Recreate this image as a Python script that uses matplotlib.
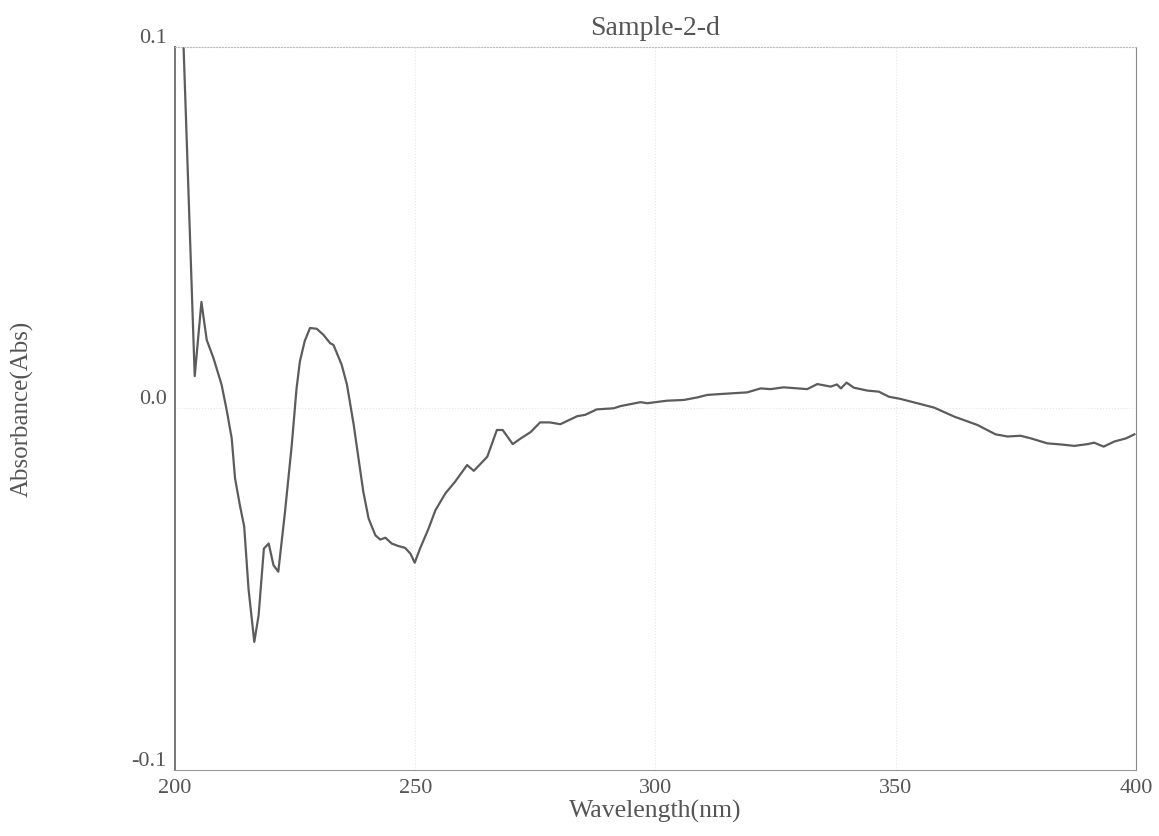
import matplotlib
matplotlib.use("Agg")
import matplotlib.pyplot as plt

# wavelength (nm) and absorbance
wavelength = [200.0, 204.1, 205.5, 206.6, 208.0, 209.7, 210.8, 211.8, 212.5,
              213.5, 214.4, 215.3, 216.5, 217.4, 218.5, 219.5, 220.5, 221.5,
              222.9, 224.3, 225.3, 226.0, 227.0, 228.1, 229.5, 230.9, 232.3,
              233.0, 234.7, 235.8, 237.2, 238.2, 239.2, 240.3, 241.7, 242.7,
              243.8, 245.1, 246.5, 247.9, 249.0, 249.9, 251.0, 252.8, 254.2,
              256.3, 258.3, 260.8, 262.2, 265.0, 267.0, 268.2, 270.3, 272.0,
              274.0, 276.0, 278.0, 280.2, 283.7, 285.4, 287.8, 291.3, 292.7,
              296.9, 298.3, 302.4, 305.9, 308.7, 310.8, 314.2, 319.1, 321.9,
              324.0, 326.7, 331.6, 333.7, 336.5, 337.8, 338.6, 339.8, 341.3,
              344.1, 346.5, 348.6, 351.0, 354.5, 358.0, 362.2, 367.0, 370.8,
              373.3, 376.0, 378.1, 381.6, 384.4, 387.2, 390.0, 391.3, 393.3,
              395.5, 398.0, 399.7]
absorbance = [0.170, 0.0089, 0.0294, 0.0189, 0.0139, 0.0065, -0.0008, -0.0083, -0.0194,
              -0.0268, -0.0327, -0.0499, -0.0646, -0.0573, -0.0388, -0.0374, -0.0434, -0.0452,
              -0.0286, -0.0102, 0.0055, 0.0130, 0.0186, 0.0222, 0.0220, 0.0203, 0.0180,
              0.0175, 0.0120, 0.0065, -0.0046, -0.0139, -0.0231, -0.0305, -0.0351, -0.0363,
              -0.0358, -0.0374, -0.0381, -0.0386, -0.0402, -0.0427, -0.0388, -0.0332, -0.0282,
              -0.0235, -0.0203, -0.0157, -0.0173, -0.0134, -0.0060, -0.0060, -0.0099, -0.0083,
              -0.0066, -0.0039, -0.0039, -0.0044, -0.0022, -0.0018, -0.0003, 0.0000, 0.0006,
              0.0017, 0.0014, 0.0021, 0.0023, 0.0030, 0.0037, 0.0040, 0.0044, 0.0055,
              0.0053, 0.0058, 0.0053, 0.0067, 0.0060, 0.0066, 0.0055, 0.0071, 0.0057,
              0.0049, 0.0046, 0.0032, 0.0026, 0.0014, 0.0002, -0.0023, -0.0046, -0.0072,
              -0.0078, -0.0076, -0.0083, -0.0097, -0.0100, -0.0104, -0.0099, -0.0095, -0.0106,
              -0.0092, -0.0083, -0.0072]

x_ticks = [200, 250, 300, 350, 400]
y_ticks = [-0.1, 0.0, 0.1]
y_tick_labels = ['-0.1', '0.0', '0.1']

plt.rcParams['font.family'] = ['Liberation Serif', 'DejaVu Serif']
TEXT = '#555555'

fig = plt.figure(figsize=(11.59, 8.37), dpi=100)
ax = fig.add_axes([0.151, 0.079, 0.829, 0.864])

ax.plot(wavelength, absorbance, color='#5c5c5c', lw=1.6, clip_on=True)

ax.set_xlim(200, 400)
ax.set_ylim(-0.1, 0.1)
ax.set_xticks(x_ticks)
ax.set_yticks(y_ticks)
ax.set_yticklabels(y_tick_labels)
ax.tick_params(length=0, labelsize=16, colors=TEXT, pad=6)
for lab in ax.get_yticklabels():
    lab.set_verticalalignment('bottom')

# faint dotted grid like the instrument printout
ax.grid(True, color='#e6e6e6', ls=':', lw=0.8)

ax.spines['left'].set_color('#777777')
ax.spines['left'].set_linewidth(1.4)
ax.spines['bottom'].set_color('#999999')
ax.spines['right'].set_color('#888888')
ax.spines['top'].set_color('#bbbbbb')
ax.spines['top'].set_linestyle(':')

ax.set_xlabel('Wavelength(nm)', fontsize=18.5, color=TEXT, labelpad=1)
ax.set_ylabel('Absorbance(Abs)', fontsize=18, color=TEXT, labelpad=70)
ax.set_title('Sample-2-d', fontsize=20, color=TEXT, pad=9)

fig.savefig('out.png', dpi=100)
